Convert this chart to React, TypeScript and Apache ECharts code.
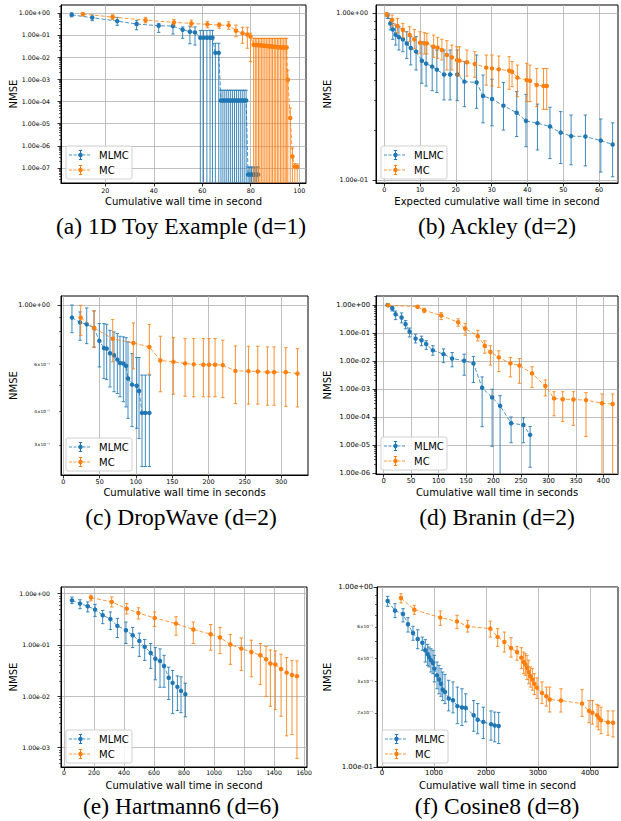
import React, { useEffect, useRef } from "react";
import * as echarts from "echarts";

// ---------------- data: [time, NMSE, lower, upper] (lower 0 = below the plot) ----------------
const toyMLMC = [
  [6.1, 0.8, 0.66, 1.0], [14.6, 0.6, 0.44, 0.79], [24.9, 0.42, 0.27, 0.62], [32.9, 0.31, 0.17, 0.44],
  [42.0, 0.26, 0.13, 0.33], [47.9, 0.25, 0.11, 0.31], [51.9, 0.17, 0.07, 0.23], [54.9, 0.14, 0.04, 0.25],
  [57.0, 0.13, 0.035, 0.23], [59.2, 0.075, 0, 0.16], [60.5, 0.075, 0, 0.16], [61.9, 0.075, 0, 0.16],
  [63.2, 0.075, 0, 0.16], [64.2, 0.075, 0, 0.16], [65.4, 0.0155, 0, 0.042], [66.8, 0.0155, 0, 0.042],
  [67.7, 1.1e-4, 0, 3.2e-4], [68.5, 1.1e-4, 0, 3.2e-4], [69.3, 1.1e-4, 0, 3.2e-4], [70.1, 1.1e-4, 0, 3.2e-4],
  [70.9, 1.1e-4, 0, 3.2e-4], [71.7, 1.1e-4, 0, 3.2e-4], [72.5, 1.1e-4, 0, 3.2e-4], [73.3, 1.1e-4, 0, 3.2e-4],
  [74.1, 1.1e-4, 0, 3.2e-4], [74.9, 1.1e-4, 0, 3.2e-4], [75.7, 1.1e-4, 0, 3.2e-4], [76.5, 1.1e-4, 0, 3.2e-4],
  [77.3, 1.1e-4, 0, 3.2e-4], [78.1, 1.1e-4, 0, 3.2e-4], [78.9, 5e-8, 0, 1.1e-7], [79.6, 5e-8, 0, 1.1e-7],
  [80.3, 5e-8, 0, 1.1e-7], [81.0, 5e-8, 0, 1.1e-7], [81.7, 5e-8, 0, 1.1e-7], [82.4, 5e-8, 0, 1.1e-7],
  [83.1, 5e-8, 0, 1.1e-7],
];
const toyMC = [
  [10.7, 0.87, 0.72, 1.0], [23.0, 0.64, 0.5, 0.81], [36.6, 0.46, 0.35, 0.62], [48.3, 0.37, 0.28, 0.5],
  [55.5, 0.33, 0.23, 0.47], [62.1, 0.3, 0.21, 0.41], [67.0, 0.28, 0.2, 0.35], [70.9, 0.27, 0.18, 0.39],
  [73.9, 0.155, 0.083, 0.28], [76.6, 0.12, 0.042, 0.22], [78.6, 0.105, 0.025, 0.22], [79.9, 0.085, 0.0062, 0.12],
  [81.2, 0.036, 0, 0.07], [81.9, 0.035, 0, 0.07], [82.5, 0.035, 0, 0.07], [83.2, 0.034, 0, 0.07],
  [83.8, 0.034, 0, 0.07], [84.5, 0.033, 0, 0.07], [85.1, 0.033, 0, 0.07], [85.8, 0.032, 0, 0.07],
  [86.4, 0.032, 0, 0.07], [87.1, 0.031, 0, 0.07], [87.7, 0.031, 0, 0.07], [88.4, 0.03, 0, 0.07],
  [89.0, 0.03, 0, 0.07], [89.7, 0.029, 0, 0.07], [90.3, 0.029, 0, 0.07], [91.0, 0.028, 0, 0.07],
  [91.6, 0.028, 0, 0.07], [92.3, 0.028, 0, 0.07], [92.9, 0.027, 0, 0.07], [93.6, 0.027, 0, 0.07],
  [94.2, 0.027, 0, 0.07], [94.8, 0.027, 0, 0.07], [95.3, 9.5e-4, 0, 0.0026], [96.3, 1.8e-5, 0, 5e-5],
  [97.2, 3.3e-7, 0, 8e-7], [98.2, 1.15e-7, 0, 1.6e-7], [99.2, 1.1e-7, 0, 1.5e-7],
];
const ackleyMLMC = [
  [0.9, 0.977, 0.933, 1.0], [1.7, 0.87, 0.795, 0.933], [2.4, 0.8, 0.699, 0.871], [3.2, 0.745, 0.646, 0.851],
  [4.1, 0.72, 0.603, 0.832], [5.2, 0.7, 0.589, 0.813], [6.3, 0.66, 0.537, 0.776], [7.4, 0.62, 0.491, 0.725],
  [8.9, 0.59, 0.458, 0.725], [10.5, 0.52, 0.381, 0.676], [11.7, 0.5, 0.367, 0.661], [13.4, 0.48, 0.344, 0.631],
  [14.7, 0.46, 0.336, 0.603], [16.7, 0.43, 0.303, 0.603], [18.4, 0.43, 0.303, 0.603], [20.4, 0.43, 0.3, 0.603],
  [22.4, 0.39, 0.276, 0.514], [25.8, 0.386, 0.27, 0.563], [27.6, 0.32, 0.221, 0.427], [30.1, 0.307, 0.212, 0.403],
  [33.3, 0.28, 0.2, 0.385], [37.0, 0.254, 0.183, 0.34], [39.6, 0.227, 0.159, 0.327], [42.8, 0.22, 0.152, 0.286],
  [46.3, 0.21, 0.135, 0.274], [49.3, 0.193, 0.126, 0.258], [52.2, 0.184, 0.124, 0.246], [56.2, 0.183, 0.122, 0.246],
  [60.5, 0.173, 0.112, 0.233], [63.8, 0.164, 0.105, 0.221],
];
const ackleyMC = [
  [0.7, 0.99, 0.955, 1.0], [2.2, 0.912, 0.84, 0.977], [3.7, 0.84, 0.766, 0.933], [5.2, 0.795, 0.718, 0.871],
  [7.1, 0.742, 0.677, 0.832], [8.4, 0.7, 0.617, 0.8], [10.0, 0.667, 0.576, 0.776], [11.2, 0.661, 0.571, 0.766],
  [11.9, 0.661, 0.571, 0.759], [13.8, 0.631, 0.545, 0.742], [14.9, 0.623, 0.538, 0.718], [16.1, 0.603, 0.526, 0.699],
  [17.5, 0.563, 0.458, 0.686], [18.9, 0.545, 0.458, 0.646], [20.3, 0.525, 0.427, 0.631], [21.0, 0.521, 0.421, 0.631],
  [23.1, 0.509, 0.421, 0.603], [25.3, 0.497, 0.414, 0.589], [28.5, 0.473, 0.372, 0.563], [30.1, 0.468, 0.367, 0.563],
  [32.0, 0.462, 0.36, 0.555], [34.9, 0.454, 0.351, 0.55], [35.7, 0.447, 0.364, 0.514], [37.2, 0.412, 0.317, 0.49],
  [39.8, 0.399, 0.296, 0.502], [40.7, 0.395, 0.296, 0.49], [42.6, 0.372, 0.276, 0.468], [44.5, 0.367, 0.266, 0.468],
  [45.4, 0.367, 0.266, 0.468],
];
const dropMLMC = [
  [11.9, 0.897, 0.788, 1.0], [23.0, 0.861, 0.738, 0.942], [32.2, 0.847, 0.717, 0.975], [42.3, 0.82, 0.697, 0.95],
  [49.6, 0.734, 0.587, 0.852], [56.0, 0.69, 0.531, 0.852], [59.7, 0.687, 0.526, 0.847], [64.3, 0.66, 0.494, 0.804],
  [69.8, 0.649, 0.474, 0.793], [74.4, 0.625, 0.467, 0.782], [78.1, 0.607, 0.454, 0.764], [82.7, 0.604, 0.435, 0.76],
  [86.4, 0.592, 0.416, 0.755], [89.1, 0.531, 0.377, 0.728], [94.6, 0.504, 0.351, 0.658], [101.1, 0.499, 0.346, 0.636],
  [104.3, 0.477, 0.317, 0.636], [108.4, 0.395, 0.249, 0.547], [113.0, 0.395, 0.249, 0.547], [118.5, 0.395, 0.249, 0.547],
];
const dropMC = [
  [23.9, 0.897, 0.77, 0.997], [42.3, 0.82, 0.693, 0.95], [68.0, 0.748, 0.613, 0.882], [96.5, 0.721, 0.577, 0.857],
  [118.5, 0.697, 0.551, 0.845], [133.7, 0.62, 0.474, 0.764], [151.6, 0.613, 0.464, 0.755], [167.7, 0.605, 0.456, 0.749],
  [179.6, 0.6, 0.454, 0.749], [192.9, 0.598, 0.454, 0.749], [200.7, 0.598, 0.454, 0.749], [209.0, 0.598, 0.454, 0.749],
  [219.6, 0.596, 0.451, 0.738], [237.0, 0.567, 0.428, 0.703], [255.0, 0.566, 0.426, 0.701], [267.8, 0.564, 0.426, 0.701],
  [281.1, 0.561, 0.422, 0.697], [290.3, 0.561, 0.422, 0.697], [306.4, 0.561, 0.418, 0.693], [322.5, 0.554, 0.416, 0.687],
];
const braninMLMC = [
  [7.3, 0.99, 0.897, 1.11], [15.8, 0.76, 0.61, 0.89], [21.8, 0.466, 0.3, 0.61], [32.7, 0.355, 0.23, 0.52],
  [40.0, 0.205, 0.14, 0.28], [47.3, 0.11, 0.072, 0.15], [58.2, 0.063, 0.044, 0.09], [69.1, 0.055, 0.035, 0.077],
  [77.6, 0.04, 0.026, 0.053], [89.7, 0.024, 0.016, 0.035], [109.1, 0.0175, 0.0087, 0.027], [124.8, 0.0123, 0.0062, 0.02],
  [146.7, 0.0102, 0.0031, 0.0175], [163.6, 0.0082, 0.0017, 0.0145], [179.4, 0.0011, 4.5e-5, 0.0027], [197.6, 5.0e-4, 9e-6, 9.8e-4],
  [212.1, 2.5e-4, 0, 5.8e-4], [232.1, 6.0e-5, 1.2e-5, 1.0e-4], [254.5, 5.2e-5, 1.2e-5, 9.4e-5], [266.7, 2.3e-5, 1.6e-6, 4.6e-5],
];
const braninMC = [
  [8.5, 0.97, 0.87, 1.08], [61.8, 0.87, 0.76, 0.95], [73.9, 0.65, 0.53, 0.76], [104.8, 0.42, 0.3, 0.53],
  [135.8, 0.24, 0.174, 0.32], [148.5, 0.144, 0.083, 0.22], [171.5, 0.077, 0.052, 0.124], [184.2, 0.035, 0.019, 0.052],
  [194.5, 0.021, 0.0071, 0.035], [209.7, 0.0134, 0.0042, 0.023], [230.9, 0.0082, 0.0027, 0.0133], [247.3, 0.0069, 0.0016, 0.0122],
  [270.3, 0.0036, 0.00114, 0.0062], [294.5, 0.00128, 5.6e-4, 0.0021], [310.3, 4.6e-4, 1.1e-4, 8e-4], [326.1, 4.3e-4, 6.9e-5, 8e-4],
  [345.5, 4.2e-4, 5e-5, 8e-4], [368.5, 4.0e-4, 2e-5, 7.4e-4], [397.6, 3.1e-4, 0, 6.6e-4], [417.0, 2.9e-4, 0, 6.6e-4],
];
const hartMLMC = [
  [53, 0.74, 0.64, 0.86], [107, 0.64, 0.51, 0.76], [158, 0.567, 0.44, 0.69], [207, 0.489, 0.36, 0.62],
  [258, 0.38, 0.26, 0.47], [309, 0.32, 0.2, 0.44], [356, 0.235, 0.14, 0.33], [413, 0.194, 0.107, 0.28],
  [458, 0.155, 0.089, 0.22], [502, 0.12, 0.06, 0.17], [538, 0.092, 0.05, 0.128], [578, 0.07, 0.035, 0.107],
  [609, 0.054, 0.021, 0.089], [640, 0.049, 0.015, 0.084], [667, 0.039, 0.015, 0.063], [698, 0.023, 0.0087, 0.037],
  [724, 0.0183, 0.0046, 0.032], [756, 0.0153, 0.0053, 0.025], [780, 0.0128, 0.0048, 0.024], [809, 0.011, 0.004, 0.018],
];
const hartMC = [
  [180, 0.836, 0.72, 0.93], [318, 0.69, 0.55, 0.86], [418, 0.51, 0.4, 0.64], [496, 0.42, 0.32, 0.53],
  [604, 0.336, 0.23, 0.44], [747, 0.261, 0.155, 0.355], [862, 0.2, 0.107, 0.28], [978, 0.162, 0.079, 0.25],
  [1040, 0.14, 0.068, 0.22], [1109, 0.102, 0.042, 0.16], [1182, 0.085, 0.032, 0.137], [1249, 0.073, 0.024, 0.124],
  [1309, 0.063, 0.017, 0.107], [1347, 0.053, 0.01, 0.094], [1376, 0.0436, 0.0064, 0.08], [1409, 0.0417, 0.0055, 0.077],
  [1447, 0.034, 0.0041, 0.066], [1484, 0.029, 0.0017, 0.057], [1520, 0.026, 0.0018, 0.05], [1553, 0.0247, 0.00062, 0.049],
];
const cosMLMC = [
  [109, 0.836, 0.781, 0.887], [250, 0.739, 0.676, 0.808], [404, 0.708, 0.639, 0.758], [500, 0.621, 0.562, 0.676],
  [596, 0.555, 0.506, 0.605], [686, 0.514, 0.454, 0.579], [776, 0.49, 0.445, 0.527], [833, 0.445, 0.383, 0.51],
  [878, 0.423, 0.367, 0.48], [904, 0.408, 0.36, 0.464], [942, 0.392, 0.337, 0.454], [981, 0.378, 0.33, 0.445],
  [1006, 0.352, 0.297, 0.417], [1058, 0.323, 0.272, 0.383], [1096, 0.306, 0.255, 0.367], [1135, 0.29, 0.247, 0.352],
  [1167, 0.269, 0.234, 0.337], [1212, 0.261, 0.225, 0.327], [1282, 0.24, 0.205, 0.303], [1365, 0.235, 0.2, 0.297],
  [1449, 0.218, 0.174, 0.278], [1538, 0.214, 0.17, 0.272], [1609, 0.213, 0.178, 0.255], [1763, 0.194, 0.158, 0.234],
  [1840, 0.183, 0.153, 0.225], [1949, 0.178, 0.144, 0.215], [2096, 0.173, 0.141, 0.205], [2167, 0.17, 0.138, 0.202],
  [2244, 0.169, 0.135, 0.201],
];
const cosMC = [
  [365, 0.869, 0.815, 0.918], [622, 0.748, 0.705, 0.791], [1122, 0.676, 0.612, 0.736], [1442, 0.644, 0.587, 0.696],
  [1647, 0.604, 0.562, 0.653], [2083, 0.587, 0.527, 0.647], [2224, 0.528, 0.468, 0.587], [2353, 0.495, 0.435, 0.562],
  [2481, 0.458, 0.408, 0.523], [2596, 0.435, 0.392, 0.468], [2679, 0.405, 0.352, 0.46], [2724, 0.383, 0.33, 0.435],
  [2756, 0.372, 0.323, 0.426], [2788, 0.356, 0.306, 0.417], [2821, 0.337, 0.29, 0.392], [2853, 0.319, 0.278, 0.36],
  [2891, 0.306, 0.267, 0.352], [2929, 0.29, 0.253, 0.33], [2981, 0.276, 0.24, 0.313], [3077, 0.258, 0.225, 0.297],
  [3160, 0.247, 0.218, 0.278], [3224, 0.237, 0.202, 0.278], [3442, 0.234, 0.202, 0.272], [3846, 0.225, 0.191, 0.269],
  [3981, 0.205, 0.176, 0.234], [4045, 0.2, 0.173, 0.234], [4135, 0.194, 0.167, 0.223], [4167, 0.188, 0.161, 0.22],
  [4212, 0.182, 0.153, 0.215], [4346, 0.177, 0.15, 0.205], [4442, 0.176, 0.147, 0.205],
];

// ---------------- texts & ticks ----------------
const seriesNames = ["MLMC", "MC"];
const captions = [
  "(a) 1D Toy Example (d=1)", "(b) Ackley (d=2)", "(c) DropWave (d=2)",
  "(d) Branin (d=2)", "(e) Hartmann6 (d=6)", "(f) Cosine8 (d=8)",
];
const xTitles = [
  "Cumulative wall time in second", "Expected cumulative wall time in second",
  "Cumulative wall time in seconds", "Cumulative wall time in seconds",
  "Cumulative wall time in second", "Cumulative wall time in second",
];
const yTitle = "NMSE";
const toyXTicks = [20, 40, 60, 80, 100];
const ackleyXTicks = [0, 10, 20, 30, 40, 50, 60];
const dropXTicks = [0, 50, 100, 150, 200, 250, 300];
const braninXTicks = [0, 50, 100, 150, 200, 250, 300, 350, 400];
const hartXTicks = [0, 200, 400, 600, 800, 1000, 1200, 1400, 1600];
const cosXTicks = [0, 1000, 2000, 3000, 4000];
const toyYTicks = [1e-7, 1e-6, 1e-5, 1e-4, 1e-3, 1e-2, 1e-1, 1];
const ackleyYTicks = [1e-1, 1];
const dropYTicks = [1];
const dropYMinor = [0.6, 0.4, 0.3];
const braninYTicks = [1e-6, 1e-5, 1e-4, 1e-3, 1e-2, 1e-1, 1];
const hartYTicks = [1e-3, 1e-2, 1e-1, 1];
const cosYTicks = [1e-1, 1];
const cosYMinor = [0.6, 0.4, 0.3, 0.2];
const minorMantissas = [2, 3, 4, 5, 6, 7, 8, 9];

const BLUE = "#1f77b4";
const ORANGE = "#ff7f0e";
const FONT = "DejaVu Sans";

// layout per panel (pixels / axis ranges in log10 for y)
const panels = [
  { data: [toyMLMC, toyMC], xTicks: toyXTicks, yTicks: toyYTicks, yMinor: [] as number[], left: 61, top: 5, width: 245, height: 178, xMin: 1.7, xMax: 102.8, yMin: -7.68, yMax: 0.35, tickFont: 6.3, yLabelMargin: 11, xLabelMargin: 4, xTitleY: 201, captionY: 226, captionX: 181, nmseX: 13 },
  { data: [ackleyMLMC, ackleyMC], xTicks: ackleyXTicks, yTicks: ackleyYTicks, yMinor: [] as number[], left: 376, top: 5, width: 242, height: 178, xMin: -2.3, xMax: 65.3, yMin: -1.016, yMax: 0.05, tickFont: 6.4, yLabelMargin: 8, xLabelMargin: 4, xTitleY: 201, captionY: 226, captionX: 497, nmseX: 327 },
  { data: [dropMLMC, dropMC], xTicks: dropXTicks, yTicks: dropYTicks, yMinor: dropYMinor, left: 61, top: 296, width: 247, height: 179, xMin: -3.2, xMax: 337, yMin: -0.6355, yMax: 0.0336, tickFont: 6.4, yLabelMargin: 11, xLabelMargin: 3.5, xTitleY: 492, captionY: 517, captionX: 181, nmseX: 13 },
  { data: [braninMLMC, braninMC], xTicks: braninXTicks, yTicks: braninYTicks, yMinor: [] as number[], left: 376, top: 296, width: 242, height: 178, xMin: -13.8, xMax: 426.7, yMin: -6.036, yMax: 0.32, tickFont: 6.8, yLabelMargin: 6, xLabelMargin: 3.5, xTitleY: 492, captionY: 517, captionX: 497, nmseX: 327 },
  { data: [hartMLMC, hartMC], xTicks: hartXTicks, yTicks: hartYTicks, yMinor: [] as number[], left: 61, top: 587, width: 246, height: 180, xMin: -20, xMax: 1620, yMin: -3.376, yMax: 0.129, tickFont: 6.2, yLabelMargin: 11, xLabelMargin: 2.5, xTitleY: 785, captionY: 806, captionX: 181, nmseX: 13 },
  { data: [cosMLMC, cosMC], xTicks: cosXTicks, yTicks: cosYTicks, yMinor: cosYMinor, left: 377, top: 587, width: 241, height: 180, xMin: -96, xMax: 4538, yMin: -1, yMax: 0, tickFont: 7, yLabelMargin: 4, xLabelMargin: 2.5, xTitleY: 785, captionY: 806, captionX: 497, nmseX: 327 },
];

const lg = (v: number) => Math.round(Math.log10(v) * 1e9) / 1e9;
const SUP: Record<string, string> = { "-": "⁻", "0": "⁰", "1": "¹", "2": "²", "3": "³", "4": "⁴", "5": "⁵", "6": "⁶", "7": "⁷", "8": "⁸", "9": "⁹" };

function fmtY(v: number): string {
  if (Math.abs(v - Math.round(v)) < 1e-6) {
    const e = Math.round(v);
    return "{maj|1.00e" + (e < 0 ? "-" : "+") + String(Math.abs(e)).padStart(2, "0") + "}";
  }
  const e = Math.floor(v + 1e-9);
  const m = Math.round(Math.pow(10, v - e));
  return "{mnr|" + m + "×10" + String(e).split("").map((c) => SUP[c]).join("") + "}";
}

function makeRender(color: string) {
  return (_params: any, api: any) => {
    const x = api.value(0);
    const top = api.coord([x, api.value(2)]);
    const bot = api.coord([x, api.value(1)]);
    const style = { stroke: color, lineWidth: 1, opacity: 0.85 };
    const cw = 1.7;
    const children: any[] = [
      { type: "line", shape: { x1: top[0], y1: top[1], x2: bot[0], y2: bot[1] }, style },
    ];
    if (!api.value(4)) children.push({ type: "line", shape: { x1: top[0] - cw, y1: top[1], x2: top[0] + cw, y2: top[1] }, style });
    if (!api.value(3)) children.push({ type: "line", shape: { x1: bot[0] - cw, y1: bot[1], x2: bot[0] + cw, y2: bot[1] }, style });
    return { type: "group", children };
  };
}

function buildOption() {
  const grid: any[] = [];
  const xAxis: any[] = [];
  const yAxis: any[] = [];
  const series: any[] = [];
  const graphic: any[] = [];

  panels.forEach((p, i) => {
    grid.push({ left: p.left, top: p.top, width: p.width, height: p.height, show: true, borderColor: "#000", borderWidth: 1, backgroundColor: "transparent" });
    xAxis.push({
      type: "value", gridIndex: i, min: p.xMin, max: p.xMax,
      axisLine: { show: true, onZero: false, lineStyle: { color: "#000", width: 1 } },
      axisTick: { show: true, length: 3.5, lineStyle: { color: "#000", width: 0.8 }, customValues: p.xTicks },
      axisLabel: { customValues: p.xTicks, fontSize: p.tickFont, color: "#000", margin: p.xLabelMargin, fontFamily: FONT, formatter: (v: number) => String(v) },
      splitLine: { show: true, lineStyle: { color: "#b0b0b0", width: 0.8 } },
    });
    const yMaj = p.yTicks.map(lg);
    const yMinLabels = p.yMinor.map(lg);
    yAxis.push({
      type: "value", gridIndex: i, min: p.yMin, max: p.yMax, position: "left",
      axisLine: { show: true, onZero: false, lineStyle: { color: "#000", width: 1 } },
      axisTick: { show: true, length: 3.5, lineStyle: { color: "#000", width: 0.8 }, customValues: yMaj },
      axisLabel: {
        customValues: yMaj.concat(yMinLabels), color: "#000", margin: p.yLabelMargin, fontFamily: FONT, fontSize: p.tickFont,
        formatter: fmtY,
        rich: { maj: { fontSize: p.tickFont, fontFamily: FONT, color: "#000" }, mnr: { fontSize: 4.3, fontFamily: FONT, color: "#000" } },
      },
      splitLine: { show: true, lineStyle: { color: "#b0b0b0", width: 0.8 } },
    });
    // minor log ticks (no labels, no grid lines)
    const minorTicks: number[] = [];
    for (let n = Math.floor(p.yMin); n < Math.ceil(p.yMax); n++) {
      minorMantissas.forEach((m) => {
        const v = n + Math.log10(m);
        if (v > p.yMin && v < p.yMax) minorTicks.push(v);
      });
    }
    yAxis.push({
      type: "value", gridIndex: i, min: p.yMin, max: p.yMax, position: "left", offset: 0,
      axisLine: { show: false, onZero: false },
      axisTick: { show: true, length: 2, lineStyle: { color: "#000", width: 0.6 }, customValues: minorTicks },
      axisLabel: { show: false },
      splitLine: { show: false },
    });

    p.data.forEach((rows, k) => {
      const color = k === 0 ? BLUE : ORANGE;
      const bars = rows.map(([x, , lo, hi]) => {
        const clipLo = lo <= 0 || Math.log10(lo) < p.yMin;
        const clipHi = Math.log10(hi) > p.yMax;
        return [x, clipLo ? p.yMin : Math.log10(lo), clipHi ? p.yMax : Math.log10(hi), clipLo ? 1 : 0, clipHi ? 1 : 0];
      });
      series.push({
        type: "custom", name: seriesNames[k], xAxisIndex: i, yAxisIndex: i * 2, data: bars,
        encode: { x: 0, y: [1, 2] }, renderItem: makeRender(color), z: 2 + k * 2, silent: true,
      });
      series.push({
        type: "line", name: seriesNames[k], xAxisIndex: i, yAxisIndex: i * 2,
        data: rows.map(([x, y]) => [x, Math.log10(y)]),
        symbol: "circle", symbolSize: 4.5, showSymbol: true,
        lineStyle: { color, width: 1, type: [4, 2], opacity: 0.8 },
        itemStyle: { color }, z: 3 + k * 2, silent: true, clip: true,
      });
    });

    // axis titles
    graphic.push({
      type: "text", x: p.nmseX, y: p.top + p.height / 2, rotation: Math.PI / 2,
      style: { text: yTitle, fontSize: 10, fontFamily: FONT, fill: "#000", align: "center", verticalAlign: "middle", textAlign: "center", textVerticalAlign: "middle" },
    });
    graphic.push({
      type: "text", x: p.left + p.width / 2, y: p.xTitleY,
      style: { text: xTitles[i], fontSize: 10, fontFamily: FONT, fill: "#000", align: "center", verticalAlign: "middle", textAlign: "center", textVerticalAlign: "middle" },
    });
    graphic.push({
      type: "text", x: p.captionX, y: p.captionY,
      style: { text: captions[i], fontSize: 23.5, fontFamily: "Liberation Serif", fill: "#000", align: "center", verticalAlign: "middle", textAlign: "center", textVerticalAlign: "middle" },
    });

    // legend box
    const bx = p.left + 5;
    const by = p.top + p.height - 37;
    graphic.push({ type: "rect", z: 100, shape: { x: bx, y: by, width: 66, height: 33, r: 2 }, style: { fill: "rgba(255,255,255,0.85)", stroke: "#d0d0d0", lineWidth: 1 } });
    seriesNames.forEach((name, k) => {
      const color = k === 0 ? BLUE : ORANGE;
      const cy = by + 9 + k * 15;
      const cx = bx + 14.5;
      graphic.push({ type: "line", z: 101, shape: { x1: bx + 3, y1: cy, x2: bx + 25, y2: cy }, style: { stroke: color, lineWidth: 1, lineDash: [3, 1.5], opacity: 0.8 } });
      graphic.push({ type: "line", z: 101, shape: { x1: cx, y1: cy - 4.5, x2: cx, y2: cy + 4.5 }, style: { stroke: color, lineWidth: 1 } });
      graphic.push({ type: "line", z: 101, shape: { x1: cx - 1.7, y1: cy - 4.5, x2: cx + 1.7, y2: cy - 4.5 }, style: { stroke: color, lineWidth: 1 } });
      graphic.push({ type: "line", z: 101, shape: { x1: cx - 1.7, y1: cy + 4.5, x2: cx + 1.7, y2: cy + 4.5 }, style: { stroke: color, lineWidth: 1 } });
      graphic.push({ type: "circle", z: 102, shape: { cx, cy, r: 2.2 }, style: { fill: color } });
      graphic.push({
        type: "text", z: 102, x: bx + 33, y: cy,
        style: { text: name, fontSize: 10, fontFamily: FONT, fill: "#000", align: "left", verticalAlign: "middle", textAlign: "left", textVerticalAlign: "middle" },
      });
    });
  });

  return {
    animation: false,
    backgroundColor: "#ffffff",
    textStyle: { fontFamily: FONT },
    grid, xAxis, yAxis, series, graphic,
  };
}

export default function App() {
  const ref = useRef<HTMLDivElement>(null);
  useEffect(() => {
    if (!ref.current) return;
    const chart = echarts.init(ref.current, undefined, { renderer: "svg" });
    chart.setOption(buildOption() as any);
    return () => chart.dispose();
  }, []);
  return <div ref={ref} style={{ position: "fixed", left: 0, top: 0, width: 621, height: 821, background: "#fff" }} />;
}
